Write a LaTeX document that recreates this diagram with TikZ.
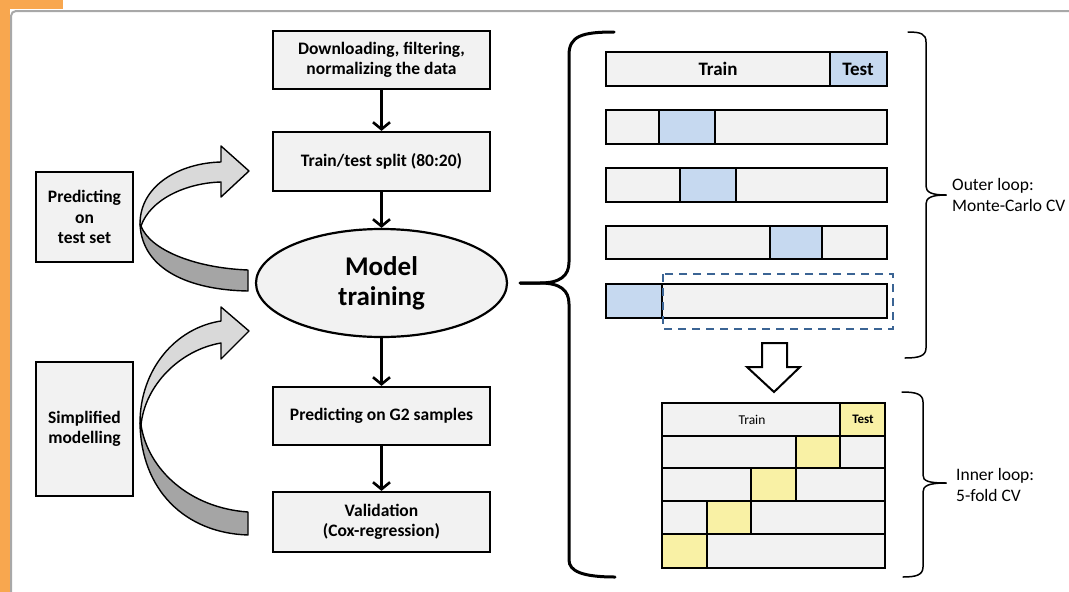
\documentclass[tikz,border=0pt]{standalone}
\usepackage{fontspec}
\setmainfont{Carlito}
\usetikzlibrary{arrows.meta,shapes.geometric}
\definecolor{orangebar}{HTML}{F8A74F}
\definecolor{panelgray}{HTML}{A8A8A8}
\definecolor{boxfill}{HTML}{F2F2F2}
\definecolor{cellblue}{HTML}{C6D9F0}
\definecolor{cellyellow}{HTML}{F9F1A5}
\definecolor{dashblue}{HTML}{3B6494}
\definecolor{arrowlight}{HTML}{D9D9D9}
\definecolor{arrowdark}{HTML}{A5A5A5}
\begin{document}
\begin{tikzpicture}[x=1pt,y=-1pt,
  flowbox/.style={draw, line width=2.2pt, fill=boxfill, inner sep=0pt, align=center,
    font=\bfseries\fontsize{17.5}{20.5}\selectfont},
  modelnode/.style={draw, ellipse, line width=2.2pt, fill=boxfill, inner sep=0pt, align=center,
    minimum width=251pt, minimum height=108pt, font=\bfseries\fontsize{27}{30}\selectfont},
  flowarrow/.style={line width=2.6pt, -{Straight Barb[length=7pt,width=17pt]}},
  curvedark/.style={draw=black, line width=1.4pt, fill=arrowdark, line join=round},
  curvelight/.style={draw=black, line width=1.4pt, fill=arrowlight, line join=round},
  barline/.style={line width=2pt, draw=black},
  bracethick/.style={line width=3pt, line cap=round},
  bracethin/.style={line width=1.5pt, line cap=round},
  sidelabel/.style={anchor=west, align=left, inner sep=0pt, font=\fontsize{17.5}{21}\selectfont},
  outertext/.style={inner sep=0pt, font=\bfseries\fontsize{19}{22}\selectfont},
]
\useasboundingbox (0,0) rectangle (1069,592);
% background frame
\fill[white] (0,0) rectangle (1069,592);
\fill[orangebar] (0,0) rectangle (10,592);
\fill[orangebar] (0,0) rectangle (63,9);
\draw[panelgray, line width=2pt, rounded corners=5pt] (11,592) -- (11,11) -- (1069,11);

% main flow
\node[flowbox, minimum width=217pt, minimum height=58pt] (b1) at (381.5,60) {Downloading, filtering,\\normalizing the data};
\node[flowbox, minimum width=217pt, minimum height=59pt] (b2) at (381.5,161.5) {Train/test split (80:20)};
\node[modelnode] (model) at (381.5,283) {Model\\training};
\node[flowbox, minimum width=217pt, minimum height=58pt] (b3) at (381.5,416) {Predicting on G2 samples};
\node[flowbox, minimum width=217pt, minimum height=60pt] (b4) at (381.5,522) {Validation\\(Cox-regression)};
\draw[flowarrow] (b1.south) -- (b2.north);
\draw[flowarrow] (b2.south) -- (model.north);
\draw[flowarrow] (model.south) -- (b3.north);
\draw[flowarrow] (b3.south) -- (b4.north);

% left boxes
\node[flowbox, minimum width=97pt, minimum height=90pt] (pred) at (84.5,217) {Predicting\\on\\test set};
\node[flowbox, minimum width=97pt, minimum height=134pt] (simp) at (84.5,429) {Simplified\\modelling};

% curved arrows (upper)
\draw[curvedark] (140,224) .. controls (142,270) and (190,290) .. (248,291) -- (248,270)
  .. controls (195,268) and (150,250) .. (141,226) -- cycle;
\draw[curvelight] (140,224) .. controls (140,185) and (180,163) .. (221,162) -- (221,146) -- (249,171)
  -- (221,197) -- (221,182) .. controls (185,183) and (150,200) .. (141,226) -- cycle;
% curved arrows (lower)
\draw[curvedark] (140,423) .. controls (141,490) and (185,533) .. (248,535) -- (248,512)
  .. controls (190,508) and (148,470) .. (141,425) -- cycle;
\draw[curvelight] (140,423) .. controls (140,370) and (175,328) .. (221,321) -- (221,307) -- (249,331)
  -- (221,359) -- (221,343) .. controls (180,350) and (145,385) .. (141,425) -- cycle;

% big left brace
\draw[bracethick] (614,32) .. controls (582,32) and (569,36) .. (569,55) -- (569,262)
  .. controls (569,276) and (560,283) .. (540,283) -- (520,283);
\draw[bracethick] (520,283) -- (540,283) .. controls (560,283) and (569,290) .. (569,304)
  -- (569,560) .. controls (569,571) and (582,577) .. (615,577);

% outer bars
\fill[boxfill] (606,52) rectangle (887,86);
\fill[cellblue] (830,52) rectangle (887,86);
\draw[barline] (606,52) rectangle (887,86);
\draw[barline] (830,52) -- (830,86);
\node[outertext] (otrain) at (718,69) {Train};
\node[outertext] (otest) at (858,69) {Test};

\fill[boxfill] (606,110) rectangle (887,144);
\fill[cellblue] (659,110) rectangle (715,144);
\draw[barline] (606,110) rectangle (887,144);
\draw[barline] (659,110) -- (659,144) (715,110) -- (715,144);

\fill[boxfill] (606,168) rectangle (887,202);
\fill[cellblue] (680,168) rectangle (736,202);
\draw[barline] (606,168) rectangle (887,202);
\draw[barline] (680,168) -- (680,202) (736,168) -- (736,202);

\fill[boxfill] (606,226) rectangle (887,259);
\fill[cellblue] (770,226) rectangle (822,259);
\draw[barline] (606,226) rectangle (887,259);
\draw[barline] (770,226) -- (770,259) (822,226) -- (822,259);

\fill[boxfill] (606,284) rectangle (887,318);
\fill[cellblue] (606,284) rectangle (662,318);
\draw[barline] (606,284) rectangle (887,318);
\draw[barline] (662,284) -- (662,318);
\draw[dashblue, line width=2.2pt, dash pattern=on 8pt off 6pt] (663,274) rectangle (893,329);

% outer right brace
\draw[bracethin] (908,32) .. controls (921,32) and (926,34) .. (926,42) -- (926,186)
  .. controls (926,192) and (931,195) .. (946,195);
\draw[bracethin] (946,195) .. controls (931,195) and (926,198) .. (926,204) -- (926,348)
  .. controls (926,356) and (919,358) .. (905,358);
\node[sidelabel] (outerlbl) at (952,195) {Outer loop:\\Monte-Carlo CV};

% hollow down arrow
\draw[line width=2pt, fill=white, line join=miter] (762,343) -- (787,343) -- (787,367) -- (800,367)
  -- (774,392) -- (747,367) -- (762,367) -- cycle;

% inner grid
\fill[boxfill] (662,403) rectangle (885,568);
\fill[cellyellow] (840.4,403) rectangle (885,436);
\fill[cellyellow] (795.8,436) rectangle (840.4,468);
\fill[cellyellow] (751.2,468) rectangle (795.8,501);
\fill[cellyellow] (706.6,501) rectangle (751.2,534);
\fill[cellyellow] (662,534) rectangle (706.6,568);
\draw[barline] (662,403) rectangle (885,568);
\draw[barline] (662,436) -- (885,436) (662,468) -- (885,468) (662,501) -- (885,501) (662,534) -- (885,534);
\draw[barline] (840.4,403) -- (840.4,468);
\draw[barline] (795.8,436) -- (795.8,501);
\draw[barline] (751.2,468) -- (751.2,534);
\draw[barline] (706.6,501) -- (706.6,568);
\node[inner sep=0pt, font=\fontsize{13.5}{15}\selectfont] (itrain) at (752,419.5) {Train};
\node[inner sep=0pt, font=\bfseries\fontsize{13}{15}\selectfont] (itest) at (863,419.5) {Test};

% inner right brace
\draw[bracethin] (902,392) .. controls (916,392) and (923,394) .. (923,402) -- (923,475)
  .. controls (923,481) and (928,483) .. (946,483);
\draw[bracethin] (946,483) .. controls (928,483) and (923,486) .. (923,492) -- (923,567)
  .. controls (923,575) and (916,577) .. (903,577);
\node[sidelabel] (innerlbl) at (956,485) {Inner loop:\\5-fold CV};
\end{tikzpicture}
\end{document}
